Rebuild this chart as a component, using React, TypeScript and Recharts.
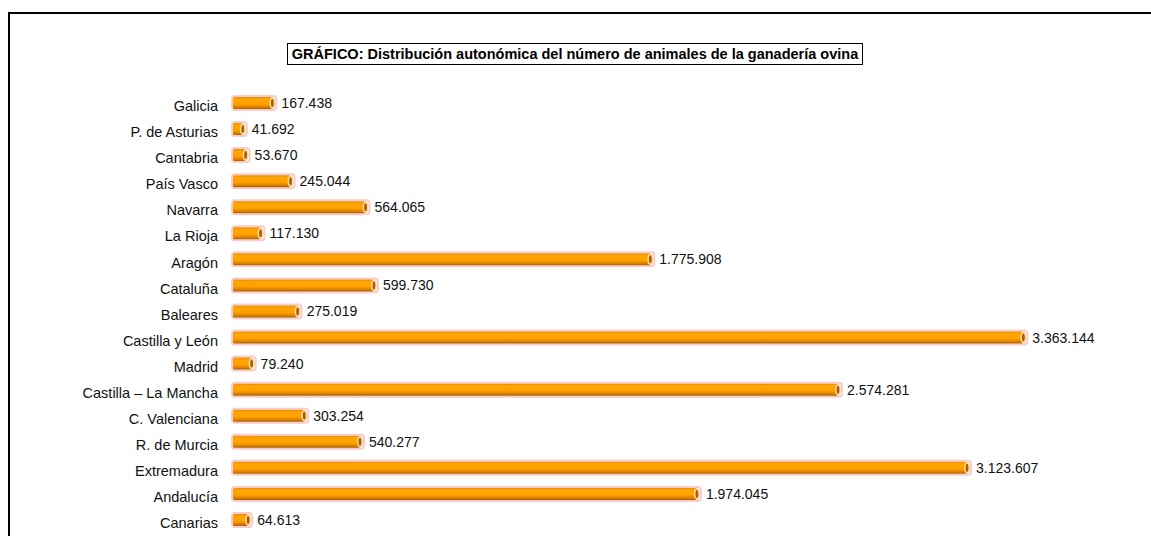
import React from "react";
import { BarChart, Bar, XAxis, YAxis, LabelList } from "recharts";

const regions = [
  "Galicia",
  "P. de Asturias",
  "Cantabria",
  "País Vasco",
  "Navarra",
  "La Rioja",
  "Aragón",
  "Cataluña",
  "Baleares",
  "Castilla y León",
  "Madrid",
  "Castilla – La Mancha",
  "C. Valenciana",
  "R. de Murcia",
  "Extremadura",
  "Andalucía",
  "Canarias",
];

const sheep = [
  167438, 41692, 53670, 245044, 564065, 117130, 1775908, 599730, 275019,
  3363144, 79240, 2574281, 303254, 540277, 3123607, 1974045, 64613,
];

const title =
  "GRÁFICO: Distribución autonómica del número de animales de la ganadería ovina";

const data = regions.map((name, i) => ({ name, value: sheep[i] }));

const fmt = (n: number) => String(n).replace(/\B(?=(\d{3})+(?!\d))/g, ".");

const font = "'Liberation Sans', Arial, sans-serif";

// cylinder-like bar: body, pink halo and an open end cap
const Tube = (props: any) => {
  const { x, y, width, height } = props;
  if (width == null) return null;
  const r = height / 2;
  return (
    <g>
      <rect
        x={x - 1}
        y={y - 1}
        width={width + 5}
        height={height + 2}
        rx={3}
        fill="none"
        stroke="#f8cccc"
        strokeWidth={2}
      />
      <rect x={x} y={y} width={width} height={height} rx={1.5} fill="url(#tubeFill)" />
      <ellipse cx={x + width} cy={y + r} rx={3} ry={r} fill="#ffd79a" />
      <ellipse cx={x + width} cy={y + r} rx={1.4} ry={r - 2} fill="#a86000" />
    </g>
  );
};

const ValueLabel = (props: any) => {
  const { x, y, width, height, value } = props;
  return (
    <text
      x={x + width + 9}
      y={y + height / 2}
      dy={5}
      fontSize={14}
      fontFamily={font}
      fill="#111"
    >
      {fmt(value)}
    </text>
  );
};

export default function App() {
  return (
    <div
      style={{
        position: "absolute",
        left: 0,
        top: 0,
        width: 1151,
        height: 536,
        overflow: "hidden",
        background: "#fff",
      }}
    >
      <div
        style={{
          position: "absolute",
          left: 8,
          top: 12,
          width: 1180,
          height: 600,
          border: "2px solid #000",
        }}
      />
      <div
        style={{
          position: "absolute",
          left: 287,
          top: 43,
          width: 574,
          height: 20,
          border: "1px solid #000",
          fontFamily: font,
          fontWeight: "bold",
          fontSize: 14.5,
          lineHeight: "20px",
          textAlign: "center",
          whiteSpace: "nowrap",
        }}
      >
        {title}
      </div>
      <div style={{ position: "absolute", left: 0, top: 0 }}>
        <BarChart
          width={1151}
          height={536}
          data={data}
          layout="vertical"
          margin={{ top: 90, right: 25, bottom: 3, left: 0 }}
        >
          <defs>
            <linearGradient id="tubeFill" x1="0" y1="0" x2="0" y2="1">
              <stop offset="0" stopColor="#e48e10" />
              <stop offset="0.2" stopColor="#ffa600" />
              <stop offset="0.6" stopColor="#ffa000" />
              <stop offset="0.85" stopColor="#d88000" />
              <stop offset="1" stopColor="#a65c00" />
            </linearGradient>
          </defs>
          <XAxis type="number" domain={[0, 3800000]} hide />
          <YAxis
            type="category"
            dataKey="name"
            width={233}
            axisLine={false}
            tickLine={false}
            tickSize={0}
            tickMargin={15}
            interval={0}
            tick={{ fontSize: 14.5, fontFamily: font, fill: "#111", dy: 3 }}
          />
          <Bar dataKey="value" barSize={12} shape={<Tube />} isAnimationActive={false}>
            <LabelList dataKey="value" content={<ValueLabel />} />
          </Bar>
        </BarChart>
      </div>
    </div>
  );
}
